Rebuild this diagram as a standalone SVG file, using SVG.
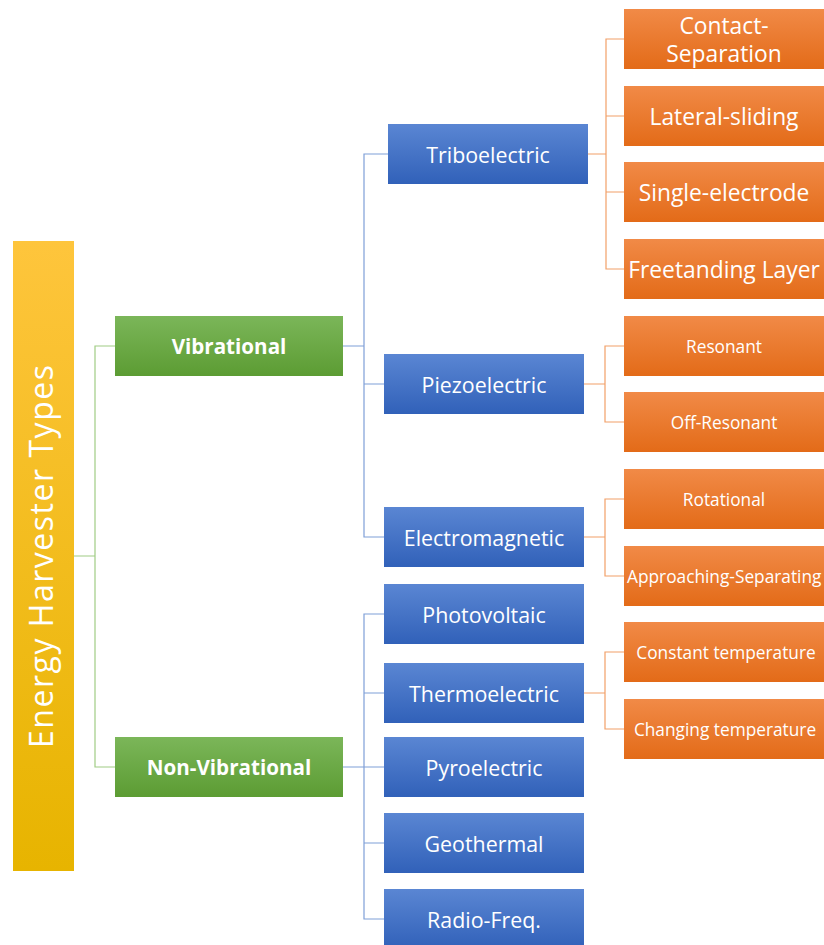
<svg xmlns="http://www.w3.org/2000/svg" width="824" height="945" viewBox="0 0 824 945">
<defs>
<linearGradient id="gY" x1="0" y1="0" x2="0" y2="1"><stop offset="0" stop-color="#fec53c"/><stop offset="1" stop-color="#e7b400"/></linearGradient>
<linearGradient id="gG" x1="0" y1="0" x2="0" y2="1"><stop offset="0" stop-color="#7bb659"/><stop offset="1" stop-color="#5c9c33"/></linearGradient>
<linearGradient id="gB" x1="0" y1="0" x2="0" y2="1"><stop offset="0" stop-color="#5a86d3"/><stop offset="1" stop-color="#3161b9"/></linearGradient>
<linearGradient id="gO" x1="0" y1="0" x2="0" y2="1"><stop offset="0" stop-color="#f18a47"/><stop offset="1" stop-color="#e36b18"/></linearGradient>
</defs>
<style>
.y{fill:url(#gY)}
.g{fill:url(#gG)}
.b{fill:url(#gB)}
.o{fill:url(#gO)}
text{font-family:"Open Sans","Noto Sans","Liberation Sans",sans-serif;fill:#ffffff;text-anchor:middle;dominant-baseline:central}
.tg{font-size:20.6px;font-weight:bold}
.tb{font-size:21.4px}
.tol{font-size:22.8px}
.tos{font-size:17.3px}
.title{font-size:32px;font-weight:normal;dominant-baseline:auto}
.cg{stroke:#a0cc84;fill:none;stroke-width:1.2}
.cb{stroke:#7f9fd8;fill:none;stroke-width:1.2}
.co{stroke:#f2a068;fill:none;stroke-width:1.2}
</style>
<rect width="824" height="945" fill="#ffffff"/>
<g id="connectors">
<path class="cg" d="M74 556H95M115 346H95V767H115"/>
<path class="cb" d="M343 346H364M388 154H364V537H384M364 384H384"/>
<path class="cb" d="M343 767H384M384 614H364V919H384M364 693H384M364 843H384"/>
<path class="co" d="M588 154H606M624 39H606V269H624M606 116H624M606 192H624"/>
<path class="co" d="M584 384H605M624 346H605V422H624"/>
<path class="co" d="M584 537H605M624 499H605V576H624"/>
<path class="co" d="M584 693H605M624 652H605V729H624"/>
</g>
<g id="root"><rect class="y" x="13" y="241" width="61" height="630"/><text class="title" transform="translate(53 556.5) rotate(-90)" x="0" y="0" textLength="383" lengthAdjust="spacing">Energy Harvester Types</text></g>
<g id="vibrational"><rect class="g" x="115" y="316" width="228" height="60"/><text class="tg" x="229" y="346">Vibrational</text></g>
<g id="nonvibrational"><rect class="g" x="115" y="737" width="228" height="60"/><text class="tg" x="229" y="767">Non-Vibrational</text></g>
<g id="triboelectric"><rect class="b" x="388" y="124" width="200" height="60"/><text class="tb" x="488" y="154">Triboelectric</text></g>
<g id="piezoelectric"><rect class="b" x="384" y="354" width="200" height="60"/><text class="tb" x="484" y="384">Piezoelectric</text></g>
<g id="electromagnetic"><rect class="b" x="384" y="507" width="200" height="60"/><text class="tb" x="484" y="537">Electromagnetic</text></g>
<g id="photovoltaic"><rect class="b" x="384" y="584" width="200" height="60"/><text class="tb" x="484" y="614">Photovoltaic</text></g>
<g id="thermoelectric"><rect class="b" x="384" y="663" width="200" height="60"/><text class="tb" x="484" y="693">Thermoelectric</text></g>
<g id="pyroelectric"><rect class="b" x="384" y="737" width="200" height="60"/><text class="tb" x="484" y="767">Pyroelectric</text></g>
<g id="geothermal"><rect class="b" x="384" y="813" width="200" height="60"/><text class="tb" x="484" y="843">Geothermal</text></g>
<g id="radiofreq"><rect class="b" x="384" y="889" width="200" height="60"/><text class="tb" x="484" y="919">Radio-Freq.</text></g>
<g id="contactsep"><rect class="o" x="624" y="9" width="200" height="60"/><text class="tol" x="724" y="25">Contact-</text><text class="tol" x="724" y="53">Separation</text></g>
<g id="lateral"><rect class="o" x="624" y="86" width="200" height="60"/><text class="tol" x="724" y="116">Lateral-sliding</text></g>
<g id="single"><rect class="o" x="624" y="162" width="200" height="60"/><text class="tol" x="724" y="192">Single-electrode</text></g>
<g id="freestanding"><rect class="o" x="624" y="239" width="200" height="60"/><text class="tol" x="724" y="269">Freetanding Layer</text></g>
<g id="resonant"><rect class="o" x="624" y="316" width="200" height="60"/><text class="tos" x="724" y="346">Resonant</text></g>
<g id="offresonant"><rect class="o" x="624" y="392" width="200" height="60"/><text class="tos" x="724" y="422">Off-Resonant</text></g>
<g id="rotational"><rect class="o" x="624" y="469" width="200" height="60"/><text class="tos" x="724" y="499">Rotational</text></g>
<g id="approaching"><rect class="o" x="624" y="546" width="200" height="60"/><text class="tos" x="627" y="576" style="text-anchor:start">Approaching-Separating</text></g>
<g id="constant"><rect class="o" x="624" y="622" width="200" height="60"/><text class="tos" x="726" y="652">Constant temperature</text></g>
<g id="changing"><rect class="o" x="624" y="699" width="200" height="60"/><text class="tos" x="725" y="729">Changing temperature</text></g>
</svg>
